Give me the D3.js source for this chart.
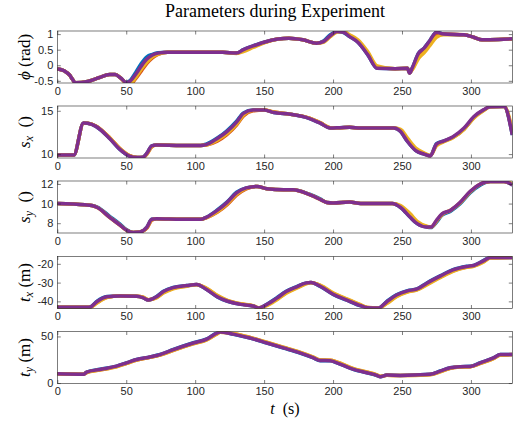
<!DOCTYPE html>
<html>
<head>
<meta charset="utf-8">
<script src="https://cdn.jsdelivr.net/npm/d3@7"></script>
<style>
  body { margin: 0; background: #fff; }
</style>
</head>
<body>
<script>
// series order as plotted (last one ends on top)
const seriesColors = ["#0072BD", "#D95319", "#EDB120", "#7E2F8E"];
const xTicks = [0, 50, 100, 150, 200, 250, 300];

// phi (rad)
const tPhi = [0,5,9,11,13,22,30,38,42,46, 50,53,57,61,65,69,73,80,100,120, 130,135,142,150,160,168,178,188,193,198, 203,207,212,218,225,232,245,254,255.5,257.5, 262,266,270,275,280,295,302,308,320,330];
const phiBlue = [-0.11,-0.18,-0.32,-0.45,-0.56,-0.52,-0.4,-0.3,-0.3,-0.41, -0.55,-0.48,-0.22,0.06,0.27,0.35,0.4,0.42,0.42,0.42, 0.39,0.5,0.62,0.74,0.84,0.87,0.82,0.71,0.78,0.98, 1.08,1.06,0.92,0.74,0.35,-0.1,-0.11,-0.1,-0.25,-0.08, 0.39,0.55,0.78,1.06,1.0,0.98,0.9,0.82,0.83,0.85];
const phiRed = [-0.11,-0.18,-0.32,-0.45,-0.56,-0.52,-0.4,-0.3,-0.3,-0.41, -0.58,-0.6,-0.42,-0.18,0.06,0.24,0.35,0.42,0.42,0.42, 0.39,0.48,0.6,0.73,0.84,0.87,0.82,0.71,0.75,0.93, 1.08,1.08,0.95,0.78,0.4,-0.06,-0.11,-0.1,-0.25,-0.12, 0.28,0.46,0.68,0.96,1.0,0.98,0.9,0.82,0.83,0.85];
const phiYellow = [-0.11,-0.18,-0.32,-0.45,-0.56,-0.52,-0.4,-0.3,-0.3,-0.41, -0.57,-0.58,-0.38,-0.12,0.1,0.27,0.36,0.42,0.42,0.42, 0.38,0.44,0.57,0.72,0.84,0.87,0.82,0.71,0.74,0.92, 1.07,1.09,0.98,0.82,0.45,-0.02,-0.11,-0.1,-0.22,-0.14, 0.22,0.4,0.62,0.9,0.98,0.98,0.9,0.82,0.83,0.85];
const phiPurple = [-0.11,-0.18,-0.32,-0.45,-0.56,-0.52,-0.4,-0.3,-0.3,-0.41, -0.55,-0.5,-0.28,-0.02,0.2,0.33,0.39,0.42,0.42,0.42, 0.39,0.5,0.62,0.74,0.84,0.87,0.82,0.71,0.76,0.95, 1.08,1.07,0.92,0.74,0.35,-0.1,-0.11,-0.1,-0.25,-0.08, 0.39,0.55,0.78,1.06,1.0,0.98,0.9,0.82,0.83,0.85];

// s_x
const tSx = [0,12,19,22,28,38,45,52,58,62, 65,68.5,72,90,104,108,116,123,130,135, 142,150,157,169,183,191,198,205,212,220, 244,249,254,260,266,270.5,275,280,287,295, 302,309,314,322,324,330];
const sxBlue = [9.9,9.9,13.6,13.55,13.2,11.8,10.6,9.8,9.6,9.65, 10.1,10.95,11.05,11.0,11.0,11.15,11.85,12.7,13.8,14.75, 15.08,15.1,14.8,14.6,14.1,13.55,13.0,13.05,13.1,13.0, 13.0,12.6,11.45,10.4,10.0,9.8,11.2,11.5,11.95,12.9, 14.2,15.05,15.45,15.5,15.5,12.2];
const sxRed = [9.9,9.9,13.55,13.55,13.25,11.9,10.7,9.85,9.6,9.6, 10.0,10.85,11.05,11.0,11.0,11.05,11.5,12.25,13.35,14.4, 15.0,15.1,14.85,14.6,14.15,13.6,13.05,13.05,13.1,13.0, 13.0,12.7,11.6,10.5,10.05,9.8,11.05,11.45,11.95,12.9, 14.2,15.05,15.45,15.5,15.5,12.4];
const sxYellow = [9.9,9.9,13.55,13.55,13.25,11.9,10.7,9.85,9.6,9.6, 10.0,10.85,11.05,11.0,11.0,11.05,11.6,12.35,13.45,14.5, 15.05,15.1,14.85,14.6,14.15,13.6,13.05,13.05,13.1,13.0, 13.0,12.85,11.85,10.7,10.15,9.85,10.95,11.4,11.9,12.85, 14.15,15.0,15.45,15.5,15.5,12.8];
const sxPurple = [9.9,9.9,13.6,13.55,13.2,11.8,10.6,9.8,9.6,9.65, 10.1,10.95,11.05,11.0,11.0,11.1,11.8,12.6,13.7,14.7, 15.08,15.1,14.8,14.6,14.1,13.55,13.0,13.05,13.1,13.0, 13.0,12.6,11.45,10.4,10.0,9.8,11.15,11.5,12.0,13.0, 14.3,15.1,15.45,15.5,15.5,12.2];

// s_y
const tSy = [0,20,25,29,38,45.5,50,55,60,65, 68.5,72,90,104,108,116,123,130,137,145, 152,164,171,183,191,195.5,200,212,220,243, 249,256,261,268,271,275,279,285,292,299.5, 307,314,324,330];
const syBlue = [10.0,9.87,9.8,9.65,8.7,7.9,7.35,7.05,7.1,7.6, 8.4,8.45,8.4,8.4,8.6,9.35,10.15,11.15,11.6,11.75, 11.5,11.4,11.4,10.95,10.45,10.1,10.05,10.15,10.0,10.0, 9.6,8.6,7.95,7.6,7.55,8.1,8.8,9.2,9.95,11.1, 11.9,12.25,12.25,11.9];
const syRed = [10.0,9.87,9.8,9.6,8.6,7.8,7.3,7.05,7.1,7.5, 8.3,8.45,8.4,8.4,8.55,9.1,9.85,10.85,11.5,11.75, 11.5,11.4,11.4,10.9,10.4,10.1,10.05,10.15,10.0,10.0, 9.7,8.75,8.05,7.65,7.6,8.2,8.9,9.3,10.05,11.2, 12.0,12.25,12.25,11.95];
const syYellow = [10.0,9.87,9.8,9.6,8.6,7.8,7.3,7.05,7.1,7.55, 8.35,8.45,8.4,8.4,8.55,9.15,9.95,10.95,11.55,11.75, 11.5,11.4,11.4,10.9,10.4,10.1,10.05,10.15,10.0,10.0, 9.8,8.95,8.2,7.7,7.6,8.2,8.9,9.3,10.05,11.2, 12.0,12.25,12.25,12.0];
const syPurple = [10.0,9.87,9.8,9.6,8.6,7.8,7.3,7.05,7.1,7.6, 8.4,8.45,8.4,8.4,8.6,9.3,10.1,11.1,11.6,11.75, 11.5,11.4,11.4,10.9,10.4,10.1,10.05,10.15,10.0,10.0, 9.6,8.6,7.95,7.6,7.6,8.3,8.95,9.3,10.1,11.25, 12.0,12.25,12.25,11.9];

// t_x (m)
const tTx = [0,22,24,28.6,36,45.5,57.5,62,66,72, 77,84,94,101,108,116,123,133,142,146, 152,159,166,174,180,184,191,200,210,220, 225,233,239,246,254,261,268,278,287,297, 302,309,314,330];
const txBlue = [-43.2,-43.2,-43,-40.0,-37.4,-37.1,-37.3,-38,-39.3,-37.4, -34.6,-32.6,-31.6,-31,-33.6,-37.6,-39.9,-41.6,-42.5,-43.5, -41.5,-38.2,-34.6,-32.0,-30.3,-30,-32.2,-36.3,-39.4,-42.4, -43.4,-43.5,-40.0,-36.5,-34.3,-33.3,-30.2,-26.3,-23.1,-21.3, -20.8,-18.3,-16.6,-16.6];
const txRed = [-43.2,-43.2,-43.1,-40.8,-37.8,-37.1,-37.3,-37.8,-39.2,-37.9, -35.3,-33.1,-31.8,-31,-33.1,-37.0,-39.5,-41.4,-42.4,-43.5, -42.0,-39.0,-35.4,-32.6,-30.6,-30,-31.7,-35.7,-38.9,-42.0, -43.3,-43.5,-40.9,-37.2,-34.8,-33.7,-30.9,-27.0,-23.7,-21.7, -21.1,-18.9,-16.8,-16.6];
const txYellow = [-43.2,-43.2,-43.2,-41.0,-38.0,-37.2,-37.3,-37.7,-39.1,-38.1, -35.6,-33.3,-31.9,-31.1,-32.9,-36.8,-39.3,-41.3,-42.3,-43.4, -42.3,-39.3,-35.7,-32.9,-30.8,-30.1,-31.5,-35.4,-38.7,-41.8, -43.2,-43.5,-41.2,-37.5,-35.0,-33.9,-31.2,-27.3,-24.0,-21.9, -21.3,-19.1,-16.9,-16.6];
const txPurple = [-43.2,-43.2,-43,-40.2,-37.5,-37.1,-37.3,-38,-39.3,-37.5, -34.8,-32.7,-31.6,-31,-33.5,-37.5,-39.8,-41.6,-42.5,-43.5, -41.6,-38.4,-34.8,-32.1,-30.3,-30,-32.1,-36.2,-39.3,-42.3, -43.4,-43.5,-40.2,-36.6,-34.4,-33.4,-30.3,-26.4,-23.2,-21.4, -20.9,-18.4,-16.6,-16.6];

// t_y (m)
const tTy = [0,19,21.3,31,43,50.4,57.6,67.3,74.5,84.2, 98.7,108.4,115.7,118,127.7,139.8,152,164,176,185.8, 190.6,198,202.8,215,224.5,231.8,234.3,239,248.7,270.5, 277.7,285,292.2,299.5,306.8,316.4,321.3,330];
const tyBlue = [10,9.5,11.8,14.7,18.2,21.8,25.3,28.1,30.6,36.0, 43.2,47.4,53.8,54.8,52.4,48.2,42.9,37.6,32.2,26.9, 24.0,23.9,21.6,14.5,11.0,8.1,6.8,8.5,8.2,9.3, 12.9,16.5,17.6,17.9,21.8,27.1,30.6,30.5];
const tyRed = [10,9.5,11.3,14.1,17.6,21.2,24.7,27.6,30.0,35.2, 42.3,46.5,52.8,54.5,53.0,48.9,43.6,38.3,32.9,27.6, 24.6,24.4,22.4,15.2,11.6,8.6,7.1,8.3,8.1,9.1, 12.2,15.9,17.2,17.6,21.1,26.4,30.1,30.5];
const tyYellow = [10,9.5,11.2,14.0,17.5,21.1,24.6,27.5,29.9,35.0, 42.1,46.3,52.6,54.4,53.1,49.0,43.8,38.5,33.1,27.8, 24.8,24.5,22.6,15.4,11.8,8.8,7.2,8.3,8.1,9.0, 12.0,15.7,17.1,17.5,21.0,26.2,30.0,30.5];
const tyPurple = [10,9.5,11.7,14.6,18.1,21.7,25.2,28,30.5,35.9, 43,47.2,53.6,54.8,52.5,48.3,43,37.7,32.3,27, 24.1,24,21.7,14.6,11.1,8.2,6.8,8.5,8.2,9.3, 12.8,16.4,17.5,17.8,21.7,27,30.5,30.5];

const panels = [
  { t: tPhi, series: [phiBlue, phiRed, phiYellow, phiPurple], domain: [-0.57, 1.1], ticks: [-0.5, 0, 0.5, 1],
    label: [{ s: "ϕ", i: true }, { s: " (rad)" }] },
  { t: tSx, series: [sxBlue, sxRed, sxYellow, sxPurple], domain: [9.55, 15.55], ticks: [10, 15],
    label: [{ s: "s", i: true }, { s: "x", i: true, sub: true }, { s: "  ()" }] },
  { t: tSy, series: [syBlue, syRed, syYellow, syPurple], domain: [7.0, 12.3], ticks: [8, 10, 12],
    label: [{ s: "s", i: true }, { s: "y", i: true, sub: true }, { s: "  ()" }] },
  { t: tTx, series: [txBlue, txRed, txYellow, txPurple], domain: [-43.8, -16.1], ticks: [-40, -30, -20],
    label: [{ s: "t", i: true }, { s: "x", i: true, sub: true }, { s: " (m)" }] },
  { t: tTy, series: [tyBlue, tyRed, tyYellow, tyPurple], domain: [-0.5, 55.3], ticks: [0, 50],
    label: [{ s: "t", i: true }, { s: "y", i: true, sub: true }, { s: " (m)" }] }
];

const width = 524, height = 424;
const left = 57.3, right = 512.3;
const tops = [31, 106, 181, 256.5, 331.5];
const panelH = 52;
const axisColor = "#262626";
const tickFont = "'Liberation Sans', Arial, sans-serif";
const serifFont = "'Liberation Serif', 'Times New Roman', serif";

const svg = d3.select("body").append("svg")
  .attr("width", width)
  .attr("height", height);

const x = d3.scaleLinear().domain([0, 330]).range([left, right]);

svg.append("text")
  .attr("x", 275).attr("y", 17)
  .attr("text-anchor", "middle")
  .attr("font-family", serifFont)
  .attr("font-size", 18)
  .attr("fill", "#000")
  .text("Parameters during Experiment");

function writeLabel(textSel, parts) {
  let wasSub = false;
  parts.forEach(p => {
    const ts = textSel.append("tspan").text(p.s);
    if (p.i) ts.attr("font-style", "italic");
    if (p.sub) {
      ts.attr("font-size", 12).attr("dy", 3);
      wasSub = true;
    } else if (wasSub) {
      ts.attr("dy", -3);
      wasSub = false;
    }
  });
}

panels.forEach((p, k) => {
  const top = tops[k];
  const y = d3.scaleLinear().domain(p.domain).range([top + panelH, top]);
  const g = svg.append("g");

  const clipId = "clip" + k;
  svg.append("clipPath").attr("id", clipId)
    .append("rect")
    .attr("x", left).attr("y", top)
    .attr("width", right - left).attr("height", panelH);

  const line = d3.line()
    .x((d, i) => x(p.t[i]))
    .y(d => y(d))
    .curve(d3.curveMonotoneX);

  g.append("g").attr("clip-path", `url(#${clipId})`)
    .selectAll("path")
    .data(p.series)
    .join("path")
    .attr("d", d => line(d))
    .attr("fill", "none")
    .attr("stroke", (d, i) => seriesColors[i])
    .attr("stroke-width", 3.5)
    .attr("stroke-linejoin", "round");

  // axes: ticks pointing inward on all four sides
  const bottom = g.append("g")
    .attr("transform", `translate(0,${top + panelH})`)
    .call(d3.axisBottom(x).tickValues(xTicks).tickSize(-3.5).tickPadding(4).tickFormat(d3.format("d")));
  const topAx = g.append("g")
    .attr("transform", `translate(0,${top})`)
    .call(d3.axisTop(x).tickValues(xTicks).tickSize(-3.5).tickFormat(""));
  const leftAx = g.append("g")
    .attr("transform", `translate(${left},0)`)
    .call(d3.axisLeft(y).tickValues(p.ticks).tickSize(-3.5).tickPadding(4).tickFormat(d => d3.format("")(d).replace("−", "-")));
  const rightAx = g.append("g")
    .attr("transform", `translate(${right},0)`)
    .call(d3.axisRight(y).tickValues(p.ticks).tickSize(-3.5).tickFormat(""));

  [bottom, topAx, leftAx, rightAx].forEach(a => {
    a.select(".domain").remove();
    a.selectAll("line").attr("stroke", axisColor).attr("stroke-width", 0.6);
    a.selectAll("text")
      .attr("fill", axisColor)
      .attr("font-family", tickFont)
      .attr("font-size", 11);
  });

  g.append("rect")
    .attr("x", left).attr("y", top)
    .attr("width", right - left).attr("height", panelH)
    .attr("fill", "none")
    .attr("stroke", axisColor)
    .attr("stroke-width", 0.6);

  const ylab = svg.append("text")
    .attr("transform", `translate(30,${top + panelH / 2}) rotate(-90)`)
    .attr("text-anchor", "middle")
    .attr("font-family", serifFont)
    .attr("font-size", 17)
    .attr("fill", "#000")
    .style("white-space", "pre");
  writeLabel(ylab, p.label);
});

const xlab = svg.append("text")
  .attr("x", 285).attr("y", 414)
  .attr("text-anchor", "middle")
  .attr("font-family", serifFont)
  .attr("font-size", 16)
  .attr("fill", "#000")
  .style("white-space", "pre");
writeLabel(xlab, [{ s: "t", i: true }, { s: "  (s)" }]);
</script>
</body>
</html>
